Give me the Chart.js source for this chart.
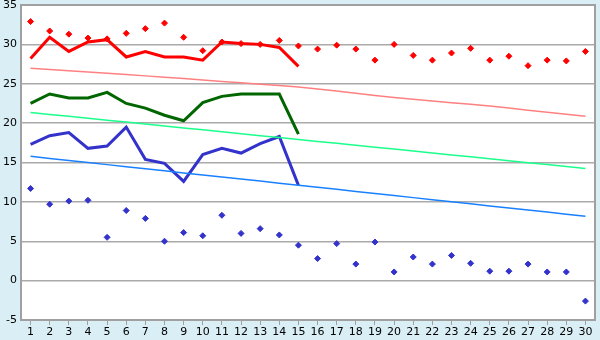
<!DOCTYPE html>
<html>
<head>
<meta charset="utf-8">
<script src="https://cdn.jsdelivr.net/npm/chart.js@4/dist/chart.umd.min.js"></script>
<style>
  html, body { margin: 0; padding: 0; background: #daeef5; }
  #wrap { width: 600px; height: 340px; }
</style>
</head>
<body>
<div id="wrap"><canvas id="chart"></canvas></div>
<script>
const categories = ['1','2','3','4','5','6','7','8','9','10','11','12','13','14','15',
    '16','17','18','19','20','21','22','23','24','25','26','27','28','29','30'];

// upper scatter (red diamonds)
const redPoints = [32.9, 31.7, 31.3, 30.8, 30.7, 31.4, 32.0, 32.7, 30.9, 29.2, 30.3, 30.1, 30.0, 30.5, 29.8,
    29.4, 29.9, 29.4, 28.0, 30.0, 28.6, 28.0, 28.9, 29.5, 28.0, 28.5, 27.3, 28.0, 27.9, 29.1];
const redLine = [28.2, 30.9, 29.1, 30.3, 30.6, 28.4, 29.1, 28.4, 28.4, 28.0, 30.3, 30.1, 30.0, 29.6, 27.2];
const redTrend = [26.96, 26.8, 26.64, 26.48, 26.32, 26.16, 26.0, 25.83, 25.66, 25.48, 25.3, 25.12, 24.94, 24.77, 24.59,
    24.33, 24.07, 23.8, 23.52, 23.25, 23.03, 22.82, 22.6, 22.39, 22.17, 21.91, 21.65, 21.39, 21.12, 20.86];

const greenLine = [22.5, 23.7, 23.2, 23.2, 23.9, 22.5, 21.9, 21.0, 20.3, 22.6, 23.4, 23.7, 23.7, 23.7, 18.6];
const greenTrend = [21.35, 21.1, 20.86, 20.62, 20.37, 20.13, 19.88, 19.64, 19.39, 19.15, 18.9, 18.66, 18.41, 18.17, 17.92,
    17.68, 17.43, 17.19, 16.94, 16.7, 16.45, 16.21, 15.96, 15.72, 15.47, 15.23, 14.98, 14.74, 14.49, 14.25];

const blueLine = [17.3, 18.4, 18.8, 16.8, 17.1, 19.5, 15.4, 14.9, 12.6, 16.0, 16.8, 16.2, 17.4, 18.3, 12.1];
const blueTrend = [15.78, 15.52, 15.26, 14.99, 14.73, 14.47, 14.21, 13.95, 13.68, 13.42, 13.16, 12.9, 12.64, 12.37, 12.11,
    11.85, 11.59, 11.33, 11.06, 10.8, 10.54, 10.28, 10.02, 9.75, 9.49, 9.23, 8.97, 8.71, 8.44, 8.18];
// lower scatter (blue diamonds)
const bluePoints = [11.7, 9.7, 10.1, 10.2, 5.5, 8.9, 7.9, 5.0, 6.1, 5.7, 8.3, 6.0, 6.6, 5.8, 4.5,
    2.8, 4.7, 2.1, 4.9, 1.1, 3.0, 2.1, 3.2, 2.2, 1.2, 1.2, 2.1, 1.1, 1.1, -2.6];

const yTicks = [-5, 0, 5, 10, 15, 20, 25, 30, 35];

// fill the plot area white, the rest stays light blue; grey frame round the plot
const plotBackground = {
    id: 'plotBackground',
    beforeDraw(chart) {
        const ctx = chart.ctx, a = chart.chartArea;
        ctx.save();
        ctx.fillStyle = '#daeef5';
        ctx.fillRect(0, 0, chart.width, chart.height);
        ctx.fillStyle = '#ffffff';
        ctx.fillRect(a.left, a.top, a.right - a.left, a.bottom - a.top);
        ctx.restore();
    },
    afterDraw(chart) {
        const ctx = chart.ctx, a = chart.chartArea;
        ctx.save();
        ctx.strokeStyle = '#a0a0a0';
        ctx.lineWidth = 2;
        ctx.strokeRect(a.left, a.top, a.right - a.left, a.bottom - a.top);
        ctx.restore();
    }
};

function lineSet(data, color, width) {
    return {
        type: 'line', data: data, borderColor: color, backgroundColor: color,
        borderWidth: width, pointRadius: 0, tension: 0, fill: false
    };
}

function pointSet(data, color) {
    return {
        type: 'line', data: data, showLine: false, borderColor: color, backgroundColor: color,
        pointStyle: 'rectRot', pointRadius: 3, pointBorderWidth: 1
    };
}

new Chart(document.getElementById('chart'), {
    data: {
        labels: categories,
        datasets: [
            lineSet(redTrend, '#ff8080', 1.5),
            lineSet(greenTrend, '#1aff8c', 1.5),
            lineSet(blueTrend, '#1a80ff', 1.5),
            lineSet(redLine, '#ff0000', 3),
            lineSet(greenLine, '#006600', 3),
            lineSet(blueLine, '#3333cc', 3),
            pointSet(redPoints, '#ff0000'),
            pointSet(bluePoints, '#3333cc')
        ]
    },
    options: {
        responsive: true,
        maintainAspectRatio: false,
        animation: false,
        layout: { padding: { top: 5, right: 5, left: 0, bottom: 0 } },
        plugins: { legend: { display: false }, tooltip: { enabled: false } },
        scales: {
            x: {
                type: 'category',
                offset: true,
                grid: { offset: false, drawOnChartArea: false, color: '#a0a0a0', tickLength: 5 },
                border: { color: '#a0a0a0', width: 2 },
                ticks: {
                    color: '#000', maxRotation: 0, autoSkip: false, padding: 1,
                    font: { family: 'DejaVu Sans', size: 11 }
                },
                afterFit: function (scale) {
                    scale.height = 20;
                    scale.paddingLeft = 0;
                    scale.paddingRight = 0;
                }
            },
            y: {
                min: -5,
                max: 35,
                afterBuildTicks: function (scale) {
                    scale.ticks = yTicks.map(function (v) { return { value: v }; });
                },
                grid: { color: '#aaaaaa', lineWidth: 1.5, drawTicks: false },
                border: { color: '#a0a0a0', width: 2 },
                ticks: {
                    color: '#000', padding: 4,
                    font: { family: 'DejaVu Sans', size: 11 }
                },
                afterFit: function (scale) {
                    scale.width = 21;
                    scale.paddingTop = 0;
                    scale.paddingBottom = 0;
                }
            }
        }
    },
    plugins: [plotBackground]
});
</script>
</body>
</html>
